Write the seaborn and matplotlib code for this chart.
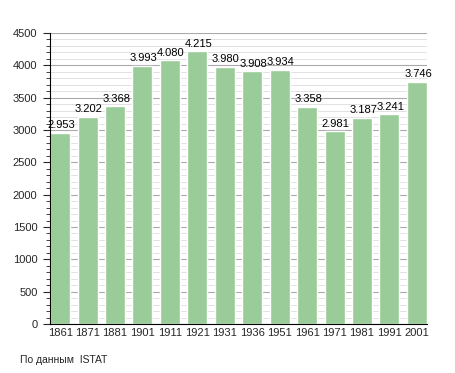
import matplotlib
matplotlib.use("Agg")
import matplotlib.pyplot as plt
import seaborn as sns
import pandas as pd
from matplotlib.ticker import MultipleLocator

years = ["1861", "1871", "1881", "1901", "1911", "1921", "1931", "1936",
         "1951", "1961", "1971", "1981", "1991", "2001"]
population = [2953, 3202, 3368, 3993, 4080, 4215, 3980, 3908,
              3934, 3358, 2981, 3187, 3241, 3746]
labels = ["2.953", "3.202", "3.368", "3.993", "4.080", "4.215", "3.980", "3.908",
          "3.934", "3.358", "2.981", "3.187", "3.241", "3.746"]

df = pd.DataFrame({"year": years, "pop": population})

sns.set_style("white")
plt.rcParams['font.family'] = ['Liberation Sans', 'DejaVu Sans']

fig = plt.figure(figsize=(4.55, 3.73), dpi=100)
ax = fig.add_axes([50/455, 1-324/373, 377/455, 291/373])

ax.set_ylim(0, 4500)
ax.yaxis.set_major_locator(MultipleLocator(500))
ax.yaxis.set_minor_locator(MultipleLocator(100))
ax.grid(True, which="major", axis="y", color="#aaaaaa", linewidth=0.8, zorder=0)
ax.grid(True, which="minor", axis="y", color="#dddddd", linewidth=0.6, zorder=0)
ax.set_axisbelow(True)

sns.barplot(data=df, x="year", y="pop", color="#99cc99", saturation=1,
            width=0.73, ax=ax, zorder=2)

for i, (v, t) in enumerate(zip(population, labels)):
    ax.text(i + 0.04, v + 40, t, ha="center", va="bottom", fontsize=8, color="black")

ax.set_xlim(-0.37, len(years) - 0.63)
ax.set_xlabel("")
ax.set_ylabel("")
for s in ["top", "right"]:
    ax.spines[s].set_visible(False)
ax.spines["left"].set_color("black")
ax.spines["bottom"].set_color("black")
ax.tick_params(axis="y", which="major", length=5, width=0.8, left=True, labelsize=8, pad=4)
ax.tick_params(axis="y", which="minor", length=3, width=0.6, left=True)
ax.tick_params(axis="x", length=0, labelsize=8, pad=3)

fig.text(20/455, 1-360/373, "По данным  ISTAT", fontsize=7.5, va="center", ha="left")

fig.savefig("out.png", dpi=100)
